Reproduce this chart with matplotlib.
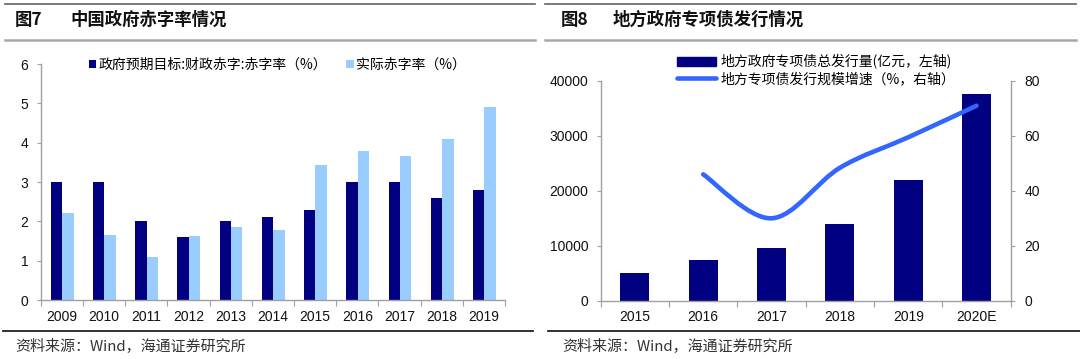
import matplotlib
matplotlib.use("Agg")
import matplotlib.pyplot as plt
from matplotlib.lines import Line2D
from matplotlib.patches import Patch, PathPatch
from matplotlib.path import Path
import numpy as np

plt.rcParams['font.family'] = ['Liberation Sans', 'Noto Sans CJK SC', 'DejaVu Sans']

# ---------------- data ----------------
years_left = ['2009', '2010', '2011', '2012', '2013', '2014', '2015', '2016', '2017', '2018', '2019']
target_deficit = [3.0, 3.0, 2.0, 1.6, 2.0, 2.1, 2.3, 3.0, 3.0, 2.6, 2.8]
actual_deficit = [2.22, 1.65, 1.1, 1.62, 1.86, 1.78, 3.43, 3.78, 3.67, 4.1, 4.9]

years_right = ['2015', '2016', '2017', '2018', '2019', '2020E']
special_bond = [5100, 7450, 9550, 14050, 22050, 37600]
growth_years = ['2016', '2017', '2018', '2019', '2020E']
growth_rate = [46, 30, 48.4, 59.5, 71]

title_left_no = '图7'
title_left = '中国政府赤字率情况'
title_right_no = '图8'
title_right = '地方政府专项债发行情况'
source_text = '资料来源：Wind，海通证券研究所'
legend_left = ['政府预期目标:财政赤字:赤字率（%）', '实际赤字率（%）']
legend_right = ['地方政府专项债总发行量(亿元，左轴)', '地方专项债发行规模增速（%，右轴）']

# ---------------- style ----------------
DARK = '#000080'
LIGHT = '#99CCFF'
LINEC = '#3366FF'
SPINE = '#A0A0A0'
CJK = ['Noto Sans CJK SC', 'DejaVu Sans']
W, H = 1080, 359

fig = plt.figure(figsize=(W / 100, H / 100), dpi=100)


def fx(px):
    return px / W


def fy(py):
    return 1 - py / H


def style_axis(ax):
    for s in ['top', 'right', 'left', 'bottom']:
        ax.spines[s].set_visible(False)
    ax.spines['left'].set_visible(True)
    ax.spines['bottom'].set_visible(True)
    for s in ['left', 'bottom']:
        ax.spines[s].set_color(SPINE)
        ax.spines[s].set_linewidth(1.0)
    ax.tick_params(axis='y', direction='out', length=3, width=0.8, color=SPINE,
                   labelsize=10, pad=6, labelcolor='#111111')
    ax.tick_params(axis='x', which='major', length=0, labelsize=10, pad=7,
                   labelcolor='#111111')
    ax.tick_params(axis='x', which='minor', direction='out', length=4, width=0.8,
                   color=SPINE)


# ---------------- left chart ----------------
axL = fig.add_axes([fx(40.7), fy(300), fx(505 - 40.7), (300 - 64) / H])
xl = np.arange(len(years_left))
bw = 0.27
axL.bar(xl - bw / 2 + 0.01, target_deficit, width=bw, color=DARK, label=legend_left[0])
axL.bar(xl + bw / 2 + 0.01, actual_deficit, width=bw, color=LIGHT, label=legend_left[1])
axL.set_xlim(-0.5, len(years_left) - 0.5)
axL.set_ylim(0, 6)
axL.set_yticks(range(0, 7))
axL.set_xticks(xl)
axL.set_xticklabels(years_left)
axL.set_xticks(np.arange(-0.5, len(years_left)), minor=True)
style_axis(axL)

legL = axL.legend(loc='center left', bbox_to_anchor=(fx(89), fy(65)),
                  bbox_transform=fig.transFigure, ncol=2, frameon=False,
                  prop={'family': CJK, 'size': 10}, handlelength=0.52,
                  handleheight=0.52, handletextpad=0.15, columnspacing=1.4,
                  borderpad=0, borderaxespad=0)

# ---------------- right chart ----------------
axR = fig.add_axes([fx(600.7), fy(300.7), fx(1010.7 - 600.7), (300.7 - 81) / H])
xr = np.arange(len(years_right))
axR.bar(xr, special_bond, width=0.425, color=DARK)
axR.set_xlim(-0.5, len(years_right) - 0.5)
axR.set_ylim(0, 40000)
axR.set_yticks(range(0, 40001, 10000))
axR.set_xticks(xr)
axR.set_xticklabels(years_right)
axR.set_xticks(np.arange(-0.5, len(years_right)), minor=True)
style_axis(axR)

axR2 = axR.twinx()
axR2.set_ylim(0, 80)
axR2.set_yticks(range(0, 81, 20))
for s in ['top', 'left', 'bottom']:
    axR2.spines[s].set_visible(False)
axR2.spines['right'].set_color(SPINE)
axR2.spines['right'].set_linewidth(1.0)
axR2.tick_params(axis='y', direction='out', length=3, width=0.8, color=SPINE,
                 labelsize=10, pad=7, labelcolor='#111111')

# smooth (Excel-like) curve through the growth points
gx = np.array([years_right.index(y) for y in growth_years], dtype=float)
gy = np.array(growth_rate, dtype=float)
pts = np.column_stack([gx, gy])
verts = [tuple(pts[0])]
codes = [Path.MOVETO]
n = len(pts)
for i in range(n - 1):
    p0 = pts[i - 1] if i > 0 else pts[i]
    p1 = pts[i]
    p2 = pts[i + 1]
    p3 = pts[i + 2] if i + 2 < n else pts[i + 1]
    c1 = p1 + (p2 - p0) / 6.0
    c2 = p2 - (p3 - p1) / 6.0
    verts += [tuple(c1), tuple(c2), tuple(p2)]
    codes += [Path.CURVE4, Path.CURVE4, Path.CURVE4]
curve = PathPatch(Path(verts, codes), facecolor='none', edgecolor=LINEC,
                  linewidth=3.3, capstyle='round', transform=axR2.transData)
axR2.add_patch(curve)

handlesR = [Patch(facecolor=DARK, edgecolor=DARK),
            Line2D([], [], color=LINEC, linewidth=3.3, solid_capstyle='round')]
legR = axR2.legend(handlesR, legend_right, loc='center left',
                   bbox_to_anchor=(fx(677), fy(70)), bbox_transform=fig.transFigure,
                   frameon=False, prop={'family': CJK, 'size': 10},
                   handlelength=2.8, handleheight=0.6, handletextpad=0.3,
                   labelspacing=0.18, borderpad=0, borderaxespad=0)

# ---------------- titles, rules, sources ----------------
for (x0, x1) in [(5, 535), (545, 1076)]:
    fig.add_artist(Line2D([fx(x0), fx(x1)], [fy(3.5), fy(3.5)], color='#707070', linewidth=1.3))
    fig.add_artist(Line2D([fx(x0), fx(x1)], [fy(40), fy(40)], color='#A8A8A8', linewidth=1.8))

fig.text(fx(15), fy(20), title_left_no, family=CJK, fontsize=12.5, fontweight='bold',
         va='center', ha='left', color='#111111')
fig.text(fx(70), fy(20), title_left, family=CJK, fontsize=12.5, fontweight='bold',
         va='center', ha='left', color='#111111')
fig.text(fx(561), fy(20), title_right_no, family=CJK, fontsize=12.5, fontweight='bold',
         va='center', ha='left', color='#111111')
fig.text(fx(613), fy(20), title_right, family=CJK, fontsize=12.5, fontweight='bold',
         va='center', ha='left', color='#111111')

fig.add_artist(Line2D([fx(3), fx(533)], [fy(331), fy(331)], color='#222222', linewidth=1.3))
fig.add_artist(Line2D([fx(548), fx(1080)], [fy(331), fy(331)], color='#222222', linewidth=1.3))
fig.text(fx(15), fy(347), source_text, family=CJK, fontsize=10.8, va='center',
         ha='left', color='#333333')
fig.text(fx(562), fy(347), source_text, family=CJK, fontsize=10.8, va='center',
         ha='left', color='#333333')

fig.savefig('out.png', dpi=100)
